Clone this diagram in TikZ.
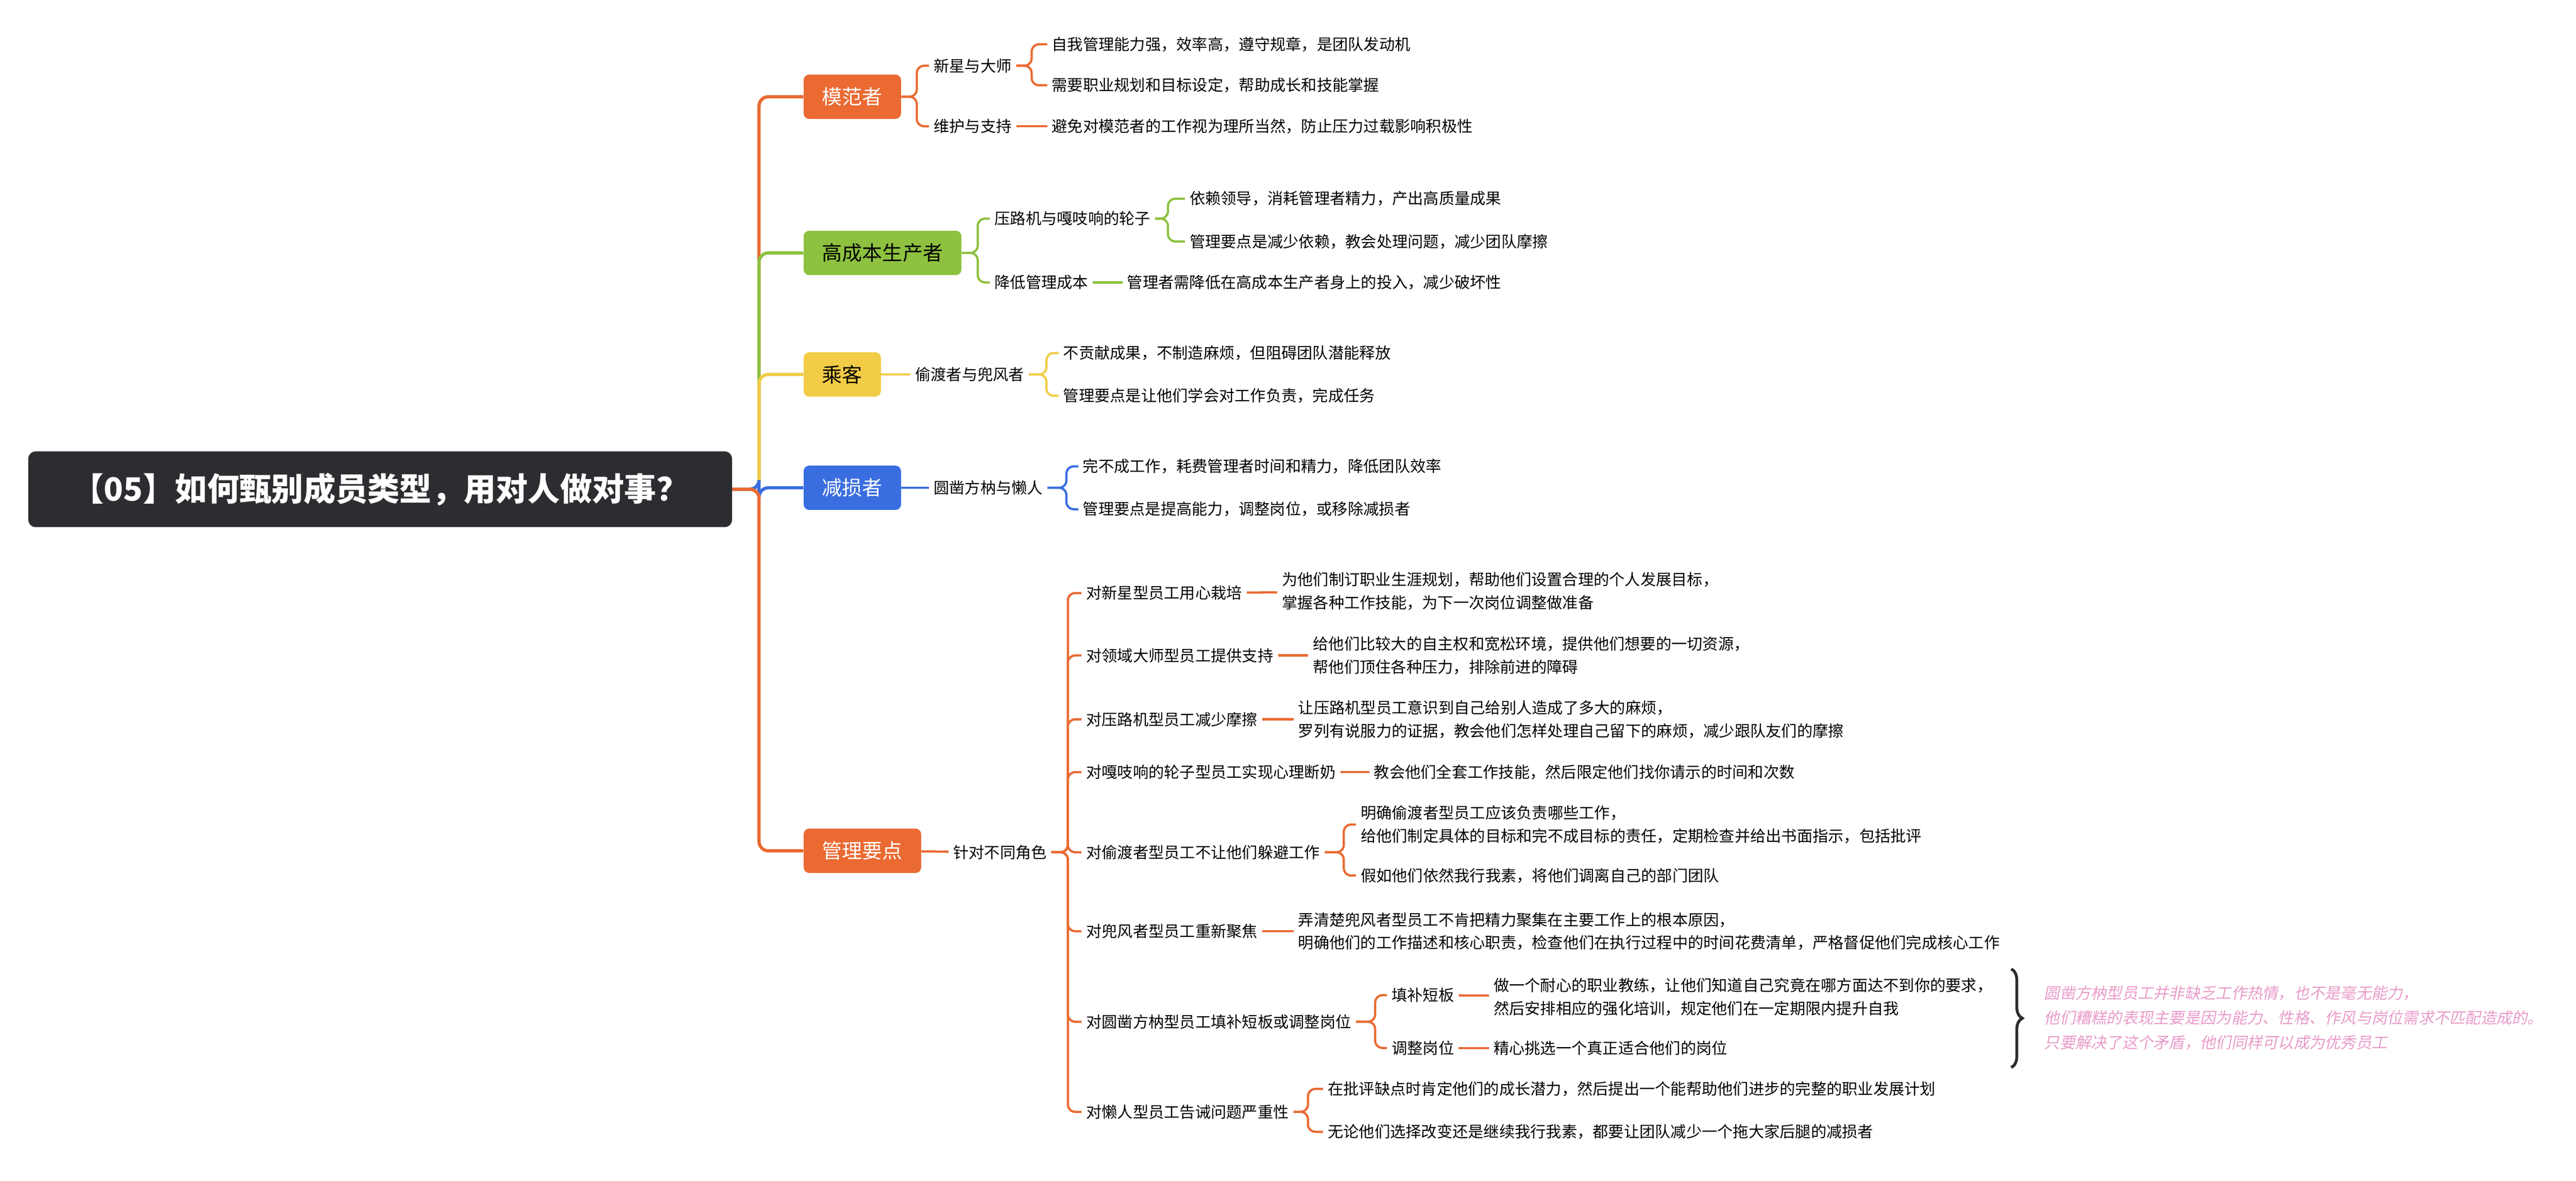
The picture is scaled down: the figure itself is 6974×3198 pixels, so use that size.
\documentclass[tikz,border=0pt]{standalone}
\usepackage{fontspec}
\setmainfont{Noto Sans CJK SC}
\newfontfamily\cjkslant[FakeSlant=0.2]{Noto Sans CJK SC}
\usetikzlibrary{calc,decorations.pathreplacing}
\definecolor{orgc}{HTML}{EA6A32}
\definecolor{grnc}{HTML}{8DC13F}
\definecolor{ylwc}{HTML}{F2CC47}
\definecolor{bluc}{HTML}{3A6EE0}
\definecolor{rootc}{HTML}{2B2D30}
\definecolor{pinkc}{HTML}{E99BC9}
\def\link[#1](#2)(#3)(#4){\draw[#1] (#2.east) -- (#2.east -| #3) |- (#4.west);}
\tikzset{
  topicbox/.style={anchor=west, rounded corners=0.15cm, minimum height=1.2cm, inner xsep=0.5cm, text=white, font=\fontsize{15.5}{18}\selectfont},
  leaf/.style={anchor=west, inner xsep=0.12cm, inner ysep=1pt, align=left, font=\fontsize{12}{17.6}\selectfont},
  mainline/.style={line width=2.5pt, rounded corners=0.25cm},
  subline/.style={line width=1.7pt, rounded corners=0.2cm},
}
\begin{document}
\begin{tikzpicture}[x=0.01cm, y=-0.01cm]
			\useasboundingbox[fill=white] (0,0) rectangle (6974,3198);
			
			% root
			\node[anchor=west, fill=rootc, rounded corners=0.2cm, minimum width=19.04cm, minimum height=2.05cm, text=white, font=\fontsize{24.7}{28}\selectfont\bfseries] (root) at (76,1325) {【05】如何甄别成员类型，用对人做对事？};
			\coordinate (trunk) at (2055,0);
			
			% topics
			\node[topicbox, fill=orgc] (mfz) at (2175,262) {模范者};
			\node[topicbox, fill=grnc, text=black] (gcb) at (2175,685) {高成本生产者};
			\node[topicbox, fill=ylwc, text=black] (ck) at (2175,1014) {乘客};
			\node[topicbox, fill=bluc] (jsz) at (2175,1321) {减损者};
			\node[topicbox, fill=orgc] (glyd) at (2175,2304) {管理要点};
			
			\link[mainline, orgc](root)(trunk)(mfz)
			\link[mainline, grnc](root)(trunk)(gcb)
			\link[mainline, ylwc](root)(trunk)(ck)
			\link[mainline, bluc](root)(trunk)(jsz)
			\link[mainline, orgc](root)(trunk)(glyd)
			
			%%%%% 模范者 %%%%%
			\coordinate (bmfz) at (2482,0);
			\coordinate (bmfza) at (2793,0);
			\node[leaf] (mfz-a) at (2515,178) {新星与大师};
			\node[leaf] (mfz-b) at (2515,342) {维护与支持};
			\node[leaf] (mfz-a1) at (2835,120) {自我管理能力强，效率高，遵守规章，是团队发动机};
			\node[leaf] (mfz-a2) at (2835,231) {需要职业规划和目标设定，帮助成长和技能掌握};
			\node[leaf] (mfz-b1) at (2835,342) {避免对模范者的工作视为理所当然，防止压力过载影响积极性};
			\link[subline, orgc](mfz)(bmfz)(mfz-a)
			\link[subline, orgc](mfz)(bmfz)(mfz-b)
			\link[subline, orgc](mfz-a)(bmfza)(mfz-a1)
			\link[subline, orgc](mfz-a)(bmfza)(mfz-a2)
			\draw[subline, orgc] (mfz-b) -- (mfz-b1);
			
			%%%%% 高成本生产者 %%%%%
			\coordinate (bgcb) at (2647,0);
			\coordinate (bgcba) at (3162,0);
			\node[leaf] (gcb-a) at (2680,592) {压路机与嘎吱响的轮子};
			\node[leaf] (gcb-b) at (2680,765) {降低管理成本};
			\node[leaf] (gcb-a1) at (3208,538) {依赖领导，消耗管理者精力，产出高质量成果};
			\node[leaf] (gcb-a2) at (3208,654) {管理要点是减少依赖，教会处理问题，减少团队摩擦};
			\node[leaf] (gcb-b1) at (3039,765) {管理者需降低在高成本生产者身上的投入，减少破坏性};
			\link[subline, grnc](gcb)(bgcb)(gcb-a)
			\link[subline, grnc](gcb)(bgcb)(gcb-b)
			\link[subline, grnc](gcb-a)(bgcba)(gcb-a1)
			\link[subline, grnc](gcb-a)(bgcba)(gcb-a2)
			\draw[subline, grnc] (gcb-b) -- (gcb-b1);
			
			%%%%% 乘客 %%%%%
			\coordinate (bcka) at (2833,0);
			\node[leaf] (ck-a) at (2465,1014) {偷渡者与兜风者};
			\node[leaf] (ck-a1) at (2866,956) {不贡献成果，不制造麻烦，但阻碍团队潜能释放};
			\node[leaf] (ck-a2) at (2866,1072) {管理要点是让他们学会对工作负责，完成任务};
			\draw[subline, ylwc] (ck) -- (ck-a);
			\link[subline, ylwc](ck-a)(bcka)(ck-a1)
			\link[subline, ylwc](ck-a)(bcka)(ck-a2)
			
			%%%%% 减损者 %%%%%
			\coordinate (bjsza) at (2887,0);
			\node[leaf] (jsz-a) at (2515,1321) {圆凿方枘与懒人};
			\node[leaf] (jsz-a1) at (2919,1263) {完不成工作，耗费管理者时间和精力，降低团队效率};
			\node[leaf] (jsz-a2) at (2919,1379) {管理要点是提高能力，调整岗位，或移除减损者};
			\draw[subline, bluc] (jsz) -- (jsz-a);
			\link[subline, bluc](jsz-a)(bjsza)(jsz-a1)
			\link[subline, bluc](jsz-a)(bjsza)(jsz-a2)
			
			%%%%% 管理要点 %%%%%
			\node[leaf] (gl) at (2568,2308) {针对不同角色};
			\draw[subline, orgc] (glyd) -- (gl);
			\coordinate (bgl) at (2891,0);
			\node[leaf] (gl-1) at (2928,1606) {对新星型员工用心栽培};
			\node[leaf] (gl-2) at (2928,1775) {对领域大师型员工提供支持};
			\node[leaf] (gl-3) at (2928,1948) {对压路机型员工减少摩擦};
			\node[leaf] (gl-4) at (2928,2091) {对嘎吱响的轮子型员工实现心理断奶};
			\node[leaf] (gl-5) at (2928,2308) {对偷渡者型员工不让他们躲避工作};
			\node[leaf] (gl-6) at (2928,2522) {对兜风者型员工重新聚焦};
			\node[leaf] (gl-7) at (2928,2767) {对圆凿方枘型员工填补短板或调整岗位};
			\node[leaf] (gl-8) at (2928,3011) {对懒人型员工告诫问题严重性};
			\foreach \i in {1,...,8}{
				\link[subline, orgc](gl)(bgl)(gl-\i)
			}
			
			\node[leaf] (gl-1a) at (3458,1601) {为他们制订职业生涯规划，帮助他们设置合理的个人发展目标，\\掌握各种工作技能，为下一次岗位调整做准备};
			\node[leaf] (gl-2a) at (3542,1775) {给他们比较大的自主权和宽松环境，提供他们想要的一切资源，\\帮他们顶住各种压力，排除前进的障碍};
			\node[leaf] (gl-3a) at (3502,1948) {让压路机型员工意识到自己给别人造成了多大的麻烦，\\罗列有说服力的证据，教会他们怎样处理自己留下的麻烦，减少跟队友们的摩擦};
			\node[leaf] (gl-4a) at (3707,2091) {教会他们全套工作技能，然后限定他们找你请示的时间和次数};
			\node[leaf] (gl-6a) at (3502,2522) {弄清楚兜风者型员工不肯把精力聚集在主要工作上的根本原因，\\明确他们的工作描述和核心职责，检查他们在执行过程中的时间花费清单，严格督促他们完成核心工作};
			\foreach \i in {1,2,3,4,6}{
				\draw[subline, orgc] (gl-\i) -- (gl-\i a);
			}
			
			\coordinate (bgl5) at (3638,0);
			\node[leaf] (gl-5a) at (3671,2233) {明确偷渡者型员工应该负责哪些工作，\\给他们制定具体的目标和完不成目标的责任，定期检查并给出书面指示，包括批评};
			\node[leaf] (gl-5b) at (3671,2371) {假如他们依然我行我素，将他们调离自己的部门团队};
			\link[subline, orgc](gl-5)(bgl5)(gl-5a)
			\link[subline, orgc](gl-5)(bgl5)(gl-5b)
			
			\coordinate (bgl7) at (3723,0);
			\node[leaf] (gl-7a) at (3755,2695) {填补短板};
			\node[leaf] (gl-7b) at (3755,2838) {调整岗位};
			\node[leaf] (gl-7a1) at (4031,2700) {做一个耐心的职业教练，让他们知道自己究竟在哪方面达不到你的要求，\\然后安排相应的强化培训，规定他们在一定期限内提升自我};
			\node[leaf] (gl-7b1) at (4031,2838) {精心挑选一个真正适合他们的岗位};
			\link[subline, orgc](gl-7)(bgl7)(gl-7a)
			\link[subline, orgc](gl-7)(bgl7)(gl-7b)
			\draw[subline, orgc] (gl-7a) -- (gl-7a1);
			\draw[subline, orgc] (gl-7b) -- (gl-7b1);
			
			\coordinate (bgl8) at (3541,0);
			\node[leaf] (gl-8a) at (3582,2949) {在批评缺点时肯定他们的成长潜力，然后提出一个能帮助他们进步的完整的职业发展计划};
			\node[leaf] (gl-8b) at (3582,3065) {无论他们选择改变还是继续我行我素，都要让团队减少一个拖大家后腿的减损者};
			\link[subline, orgc](gl-8)(bgl8)(gl-8a)
			\link[subline, orgc](gl-8)(bgl8)(gl-8b)
			
			% note
			\draw[line width=2.2pt, rootc, decorate, decoration={brace, amplitude=0.3cm}] (5445,2624) -- (5445,2891);
			\node[anchor=west, align=left, text=pinkc, font=\fontsize{12}{19}\selectfont\cjkslant] (note) at (5522,2757) {圆凿方枘型员工并非缺乏工作热情，也不是毫无能力，\\他们糟糕的表现主要是因为能力、性格、作风与岗位需求不匹配造成的。\\只要解决了这个矛盾，他们同样可以成为优秀员工};
\end{tikzpicture}
\end{document}
